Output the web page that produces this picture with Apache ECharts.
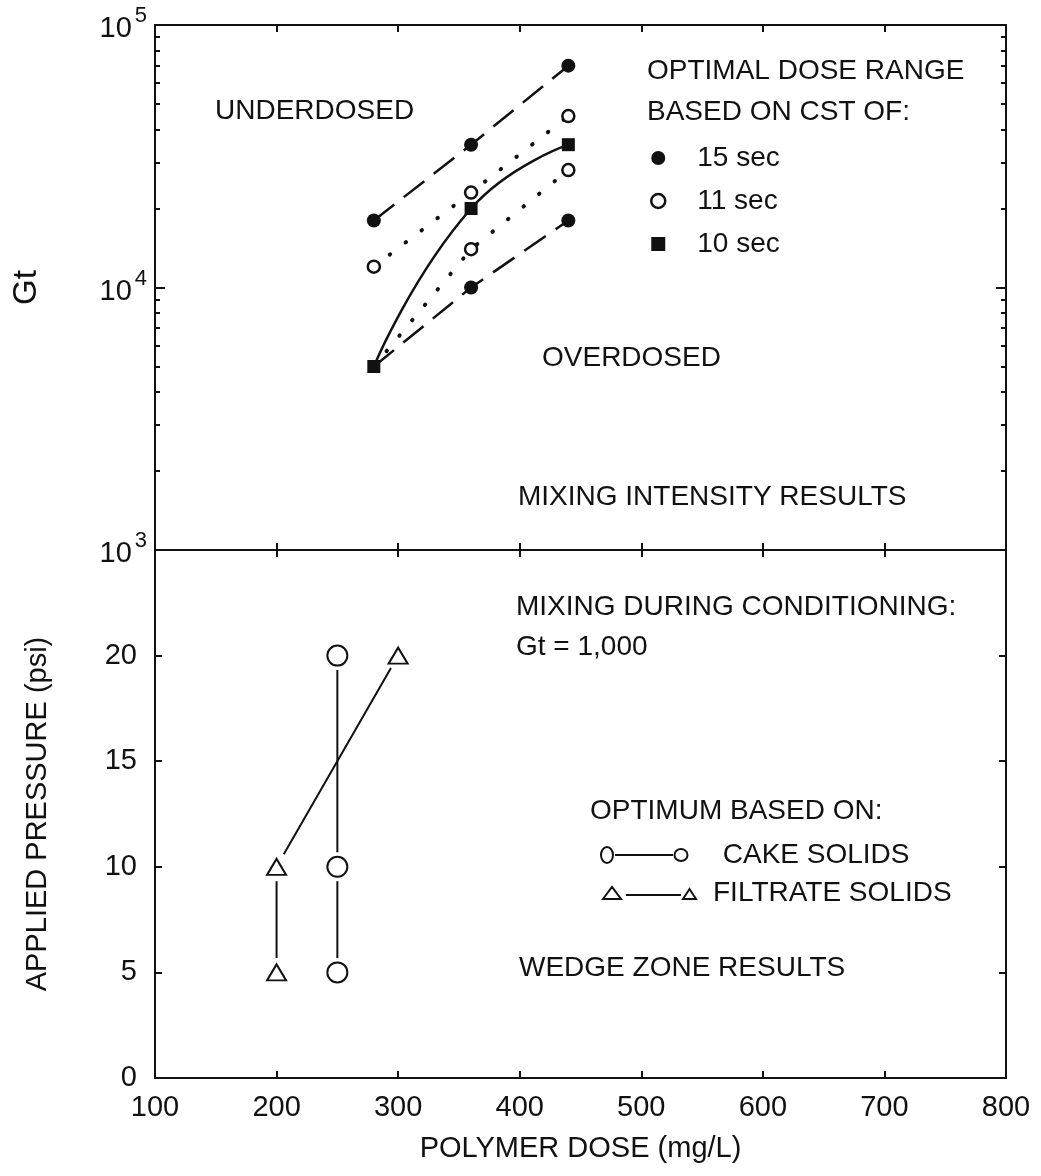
<!DOCTYPE html>
<html>
<head>
<meta charset="utf-8">
<title>Polymer dose: mixing intensity and wedge zone results</title>
<script src="https://cdn.jsdelivr.net/npm/echarts@6/dist/echarts.min.js"></script>
<style>
  html, body { margin: 0; padding: 0; background: #fff; }
  #chart { width: 1041px; height: 1176px; }
</style>
</head>
<body>
<div id="chart"></div>
<script>
// ---- Mixing intensity (Gt) bounds of the optimal dose range, by CST criterion ----
const doses = [280, 360, 440];
const cst15Upper = [18000, 35000, 70000];
const cst15Lower = [5000, 10000, 18000];
const cst11Upper = [12000, 23000, 45000];
const cst11Lower = [5000, 14000, 28000];
const cst10 = [5000, 20000, 35000];

// ---- Wedge zone: optimum dose at each applied pressure ----
const cakeDose = [250, 250, 250];
const cakePressure = [5, 10, 20];
const filtrateDose = [200, 200, 300];
const filtratePressure = [5, 10, 20];

// ---- Axis ranges and tick labels ----
const doseRange = [100, 800];
const doseStep = 100;
const gtRange = [1000, 100000];
const pressureRange = [0, 25];
const pressureStep = 5;

const INK = '#111';
const FONT = '"Liberation Sans", Arial, sans-serif';

function pairs(xs, ys) { return xs.map((x, i) => [x, ys[i]]); }
// the lower bounds all start from the shared 10 sec point, so no marker there
function pairsNoFirstSymbol(xs, ys) {
  return xs.map((x, i) => i === 0 ? { value: [x, ys[i]], symbol: 'none' } : [x, ys[i]]);
}

const axisLine = { show: true, onZero: false, lineStyle: { color: INK, width: 2 } };
const tickStyle = { color: INK, width: 2 };

function doseAxis(gridIndex, position, showLabels, name) {
  const ax = {
    type: 'value', gridIndex, position,
    min: doseRange[0], max: doseRange[1], interval: doseStep,
    axisLine, splitLine: { show: false },
    axisTick: { show: true, inside: true, length: 7, lineStyle: tickStyle },
    axisLabel: { show: showLabels, color: INK, fontSize: 29, fontFamily: FONT, margin: 15 }
  };
  if (name) {
    ax.name = name;
    ax.nameLocation = 'middle';
    ax.nameGap = 56;
    ax.nameTextStyle = { color: INK, fontSize: 29, fontFamily: FONT };
  }
  return ax;
}

function gtAxis(position, showLabels) {
  const ax = {
    type: 'log', logBase: 10, gridIndex: 0, position,
    min: gtRange[0], max: gtRange[1],
    axisLine, splitLine: { show: false },
    axisTick: { show: true, inside: true, length: 10, lineStyle: tickStyle },
    minorTick: { show: true, splitNumber: 9, length: 5, lineStyle: { color: INK, width: 2 } },
    minorSplitLine: { show: false },
    axisLabel: {
      show: showLabels, margin: 8, color: INK, fontFamily: FONT,
      formatter: v => '{b|10}{s|' + Math.round(Math.log10(v)) + '}',
      rich: {
        b: { fontSize: 29, lineHeight: 30, padding: [8, 0, 0, 0], color: INK, fontFamily: FONT },
        s: { fontSize: 22, lineHeight: 22, padding: [0, 0, 18, 3], color: INK, fontFamily: FONT }
      }
    }
  };
  if (showLabels) {
    ax.name = 'Gt';
    ax.nameLocation = 'middle';
    ax.nameRotate = 90;
    ax.nameGap = 112;
    ax.nameTextStyle = { color: INK, fontSize: 33, fontFamily: FONT };
  }
  return ax;
}

function pressureAxis(position, showLabels) {
  const ax = {
    type: 'value', gridIndex: 1, position,
    min: pressureRange[0], max: pressureRange[1], interval: pressureStep,
    axisLine, splitLine: { show: false },
    axisTick: { show: true, inside: true, length: 7, lineStyle: tickStyle },
    axisLabel: { show: showLabels, showMaxLabel: false, margin: 18, color: INK, fontSize: 29, fontFamily: FONT }
  };
  if (showLabels) {
    ax.name = 'APPLIED PRESSURE (psi)';
    ax.nameLocation = 'middle';
    ax.nameRotate = 90;
    ax.nameGap = 103;
    ax.nameTextStyle = { color: INK, fontSize: 29, fontFamily: FONT };
  }
  return ax;
}

const dashed = [26, 12];
const dotted = [0.5, 19.5];

const filledCircle = { symbol: 'circle', symbolSize: 14, itemStyle: { color: INK, borderWidth: 0 } };
const openCircle = { symbol: 'circle', symbolSize: 12, itemStyle: { color: '#fff', borderColor: INK, borderWidth: 2.5 } };
const filledSquare = { symbol: 'rect', symbolSize: 13, itemStyle: { color: INK, borderWidth: 0 } };

function gtSeries(name, data, lineType, marker, extra) {
  return Object.assign({
    type: 'line', name, xAxisIndex: 0, yAxisIndex: 0, data,
    showSymbol: true,
    lineStyle: { color: INK, width: lineType === dotted ? 4 : 2.5, type: lineType, cap: lineType === dotted ? 'round' : 'butt' },
    z: 3
  }, marker, extra || {});
}

const squareIcon = 'path://M0,0 L10,0 L10,10 L0,10 Z';
const cakeIcon = 'path://M0,8 A6,8 0 1,1 12,8 A6,8 0 1,1 0,8 Z M14,8 L72,8 M73.5,8 A6.5,6 0 1,1 86.5,8 A6.5,6 0 1,1 73.5,8 Z';
const filtrateIcon = 'path://M0,12 L9,0 L18,12 Z M23,8 L78,8 M80,12 L86.5,2 L93,12 Z';

function textEl(x, y, text) {
  return {
    type: 'text', x, y, silent: true,
    style: { text, fill: INK, font: '28px ' + FONT, verticalAlign: 'middle', align: 'left' }
  };
}

const option = {
  animation: false,
  backgroundColor: '#fff',
  grid: [
    { left: 155, right: 35, top: 25, height: 525 },
    { left: 155, right: 35, top: 550, height: 528 }
  ],
  xAxis: [
    doseAxis(0, 'bottom', false),
    doseAxis(0, 'top', false),
    doseAxis(1, 'bottom', true, 'POLYMER DOSE (mg/L)'),
    doseAxis(1, 'top', false)
  ],
  yAxis: [
    gtAxis('left', true),
    gtAxis('right', false),
    pressureAxis('left', true),
    pressureAxis('right', false)
  ],
  legend: [
    {
      orient: 'vertical', left: 645, top: 138, align: 'left',
      itemWidth: 68, itemHeight: 14, itemGap: 13,
      selectedMode: false,
      textStyle: { color: INK, fontSize: 28, fontFamily: FONT, lineHeight: 30 },
      data: [
        { name: '15 sec', icon: 'circle', itemStyle: { color: INK, borderWidth: 0 } },
        { name: '11 sec', icon: 'circle', itemStyle: { color: '#fff', borderColor: INK, borderWidth: 2.5 } },
        { name: '10 sec', icon: squareIcon, itemStyle: { color: INK, borderWidth: 0 } }
      ]
    },
    {
      orient: 'vertical', left: 595, top: 835, align: 'left',
      itemWidth: 87, itemHeight: 16, selectedMode: false,
      textStyle: { color: INK, fontSize: 28, fontFamily: FONT, lineHeight: 30, padding: [0, 0, 0, 30] },
      data: [{ name: 'CAKE SOLIDS', icon: cakeIcon, itemStyle: { color: 'rgba(0,0,0,0)', borderColor: INK, borderWidth: 2 } }]
    },
    {
      orient: 'vertical', left: 597, top: 873, align: 'left',
      itemWidth: 93, itemHeight: 12, selectedMode: false,
      textStyle: { color: INK, fontSize: 28, fontFamily: FONT, lineHeight: 30, padding: [0, 0, 0, 12] },
      data: [{ name: 'FILTRATE SOLIDS', icon: filtrateIcon, itemStyle: { color: 'rgba(0,0,0,0)', borderColor: INK, borderWidth: 2 } }]
    }
  ],
  graphic: [
    textEl(215, 111, 'UNDERDOSED'),
    textEl(542, 358, 'OVERDOSED'),
    textEl(518, 497, 'MIXING INTENSITY RESULTS'),
    textEl(647, 71, 'OPTIMAL DOSE RANGE'),
    textEl(647, 112, 'BASED ON CST OF:'),
    textEl(516, 607, 'MIXING DURING CONDITIONING:'),
    textEl(516, 647, 'Gt = 1,000'),
    textEl(590, 811, 'OPTIMUM BASED ON:'),
    textEl(519, 968, 'WEDGE ZONE RESULTS')
  ],
  series: [
    // 15 sec CST: long-dashed bounds
    gtSeries('15 sec', pairs(doses, cst15Upper), dashed, filledCircle),
    gtSeries('15 sec', pairsNoFirstSymbol(doses, cst15Lower), dashed, filledCircle),
    // 11 sec CST: dotted bounds
    gtSeries('11 sec', pairs(doses, cst11Upper), dotted, openCircle),
    gtSeries('11 sec', pairsNoFirstSymbol(doses, cst11Lower), dotted, openCircle),
    // 10 sec CST: single smooth curve
    gtSeries('10 sec', pairs(doses, cst10), 'solid', filledSquare, { smooth: 0.5, z: 5 }),

    // Wedge zone connecting lines
    {
      type: 'line', name: 'CAKE SOLIDS', xAxisIndex: 2, yAxisIndex: 2,
      data: pairs(cakeDose, cakePressure), showSymbol: false, symbol: 'none',
      lineStyle: { color: INK, width: 2 }, z: 2
    },
    {
      type: 'line', name: 'FILTRATE SOLIDS', xAxisIndex: 2, yAxisIndex: 2,
      data: pairs(filtrateDose, filtratePressure), showSymbol: false, symbol: 'none',
      lineStyle: { color: INK, width: 2 }, z: 2
    },
    // white clearance around each wedge-zone marker
    {
      type: 'scatter', name: 'clearance', xAxisIndex: 2, yAxisIndex: 2, silent: true,
      data: pairs(cakeDose, cakePressure).concat(pairs(filtrateDose, filtratePressure)),
      symbol: 'circle', symbolSize: 29, itemStyle: { color: '#fff', opacity: 1 }, z: 3
    },
    {
      type: 'scatter', name: 'CAKE SOLIDS', xAxisIndex: 2, yAxisIndex: 2,
      data: pairs(cakeDose, cakePressure),
      symbol: 'circle', symbolSize: 20,
      itemStyle: { color: '#fff', borderColor: INK, borderWidth: 2, opacity: 1 }, z: 4
    },
    {
      type: 'scatter', name: 'FILTRATE SOLIDS', xAxisIndex: 2, yAxisIndex: 2,
      data: pairs(filtrateDose, filtratePressure),
      symbol: 'triangle', symbolSize: [19, 16],
      itemStyle: { color: '#fff', borderColor: INK, borderWidth: 2, opacity: 1 }, z: 4
    }
  ]
};

const chart = echarts.init(document.getElementById('chart'), null, { renderer: 'canvas' });
chart.setOption(option);
</script>
</body>
</html>
